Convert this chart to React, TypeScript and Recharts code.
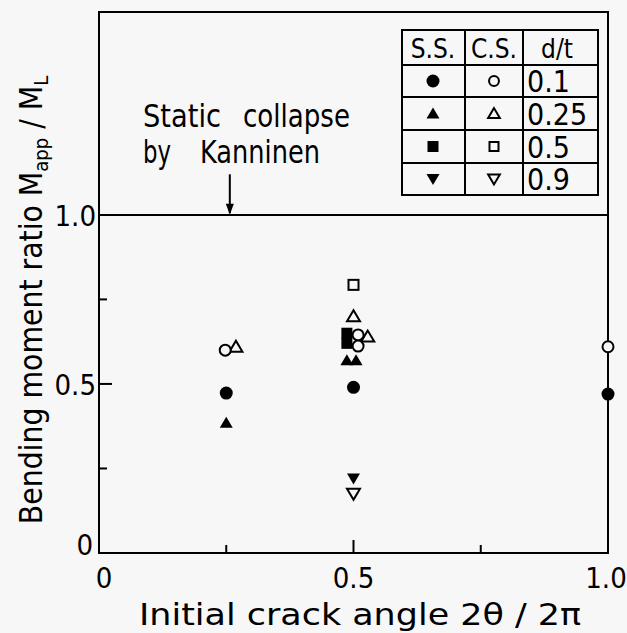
import React from "react";
import { ScatterChart, Scatter, XAxis, YAxis, ReferenceLine, ReferenceArea } from "recharts";

const FONT = "'DejaVu Sans Condensed', 'DejaVu Sans', sans-serif";
const BG = "#f7f7f7";

const xTicks = [0, 0.25, 0.5, 0.75, 1.0];
const yTicks = [0, 0.25, 0.5, 0.75, 1.0];
const xTickLabels: Record<string, string> = { "0": "0", "0.5": "0.5", "1": "1.0" };
const yTickLabels: Record<string, string> = { "0": "0", "0.5": "0.5", "1": "1.0" };

const dtLabels = ["0.1", "0.25", "0.5", "0.9"];

// S.S. (filled) and C.S. (open) results, one array per d/t
const ssD01 = [{ x: 0.25, y: 0.473 }, { x: 0.5, y: 0.49 }, { x: 1.0, y: 0.47 }];
const ssD025 = [{ x: 0.25, y: 0.385 }, { x: 0.487, y: 0.57 }, { x: 0.505, y: 0.57 }];
const ssD05 = [{ x: 0.487, y: 0.65 }, { x: 0.487, y: 0.62 }];
const ssD09 = [{ x: 0.5, y: 0.22 }];
const csD01 = [{ x: 0.248, y: 0.6 }, { x: 0.509, y: 0.645 }, { x: 0.509, y: 0.612 }, { x: 1.0, y: 0.61 }];
const csD025 = [{ x: 0.269, y: 0.61 }, { x: 0.5, y: 0.7 }, { x: 0.528, y: 0.64 }];
const csD05 = [{ x: 0.5, y: 0.793 }];
const csD09 = [{ x: 0.5, y: 0.175 }];

type Kind = "circle" | "triangle" | "square" | "down";

function drawMarker(kind: Kind, filled: boolean, cx: number, cy: number, s = 1) {
  const fill = filled ? "#000" : BG;
  const sw = filled ? 0 : 2;
  if (kind === "circle") {
    const r = (filled ? 6.5 : 5.5) * s;
    return <circle cx={cx} cy={cy} r={r} fill={fill} stroke="#000" strokeWidth={sw} />;
  }
  if (kind === "square") {
    const h = (filled ? 5.5 : 5) * s;
    return <rect x={cx - h} y={cy - h} width={h * 2} height={h * 2} fill={fill} stroke="#000" strokeWidth={sw} />;
  }
  const w = 6.5 * s;
  const t = 6 * s;
  const b = 5 * s;
  const pts =
    kind === "triangle"
      ? `${cx},${cy - t} ${cx - w},${cy + b} ${cx + w},${cy + b}`
      : `${cx},${cy + t} ${cx - w},${cy - b} ${cx + w},${cy - b}`;
  return <polygon points={pts} fill={fill} stroke="#000" strokeWidth={sw} strokeLinejoin="miter" />;
}

const shapeOf = (kind: Kind, filled: boolean) => (p: any) => <g>{drawMarker(kind, filled, p.cx, p.cy)}</g>;

const XTick = (props: any) => {
  const { x, y, payload } = props;
  const v = payload.value;
  const label = xTickLabels[String(v)];
  const len = v === 0.5 ? 13 : 8;
  const dx = v === 0 ? 5 : v === 1 ? -2 : 0;
  return (
    <g>
      {v > 0 && v < 1 && <line x1={x} x2={x} y1={y} y2={y - len} stroke="#000" strokeWidth={2} />}
      {label && (
        <text x={x + dx} y={y + 35} textAnchor="middle" fontFamily={FONT} fontSize={29} fill="#000">
          {label}
        </text>
      )}
    </g>
  );
};

const YTick = (props: any) => {
  const { x, y, payload } = props;
  const v = payload.value;
  const label = yTickLabels[String(v)];
  const len = v === 0.5 || v === 1 ? 13 : 8;
  const isZero = v === 0;
  return (
    <g>
      {v > 0 && v < 1 && <line x1={x} x2={x + len} y1={y} y2={y} stroke="#000" strokeWidth={2} />}
      {label && (
        <text
          x={isZero ? x - 6 : x - 3}
          y={isZero ? y + 2 : y + 11}
          textAnchor="end"
          fontFamily={FONT}
          fontSize={29}
          fill="#000"
        >
          {label}
        </text>
      )}
    </g>
  );
};

const YTitle = () => (
  <text
    transform="translate(42, 300) rotate(-90)"
    textAnchor="middle"
    fontFamily={FONT}
    fontSize={31.5}
    fill="#000"
  >
    <tspan>Bending moment ratio M</tspan>
    <tspan fontSize={20} dy={6}>app</tspan>
    <tspan dy={-6}> / M</tspan>
    <tspan fontSize={20} dy={6}>L</tspan>
  </text>
);

const XTitle = () => (
  <text x={360} y={625} textAnchor="middle" fontFamily={FONT} fontSize={30} fill="#000" textLength={442} lengthAdjust="spacingAndGlyphs">
    Initial crack angle  2θ / 2π
  </text>
);

const legendRows: { kind: Kind; label: string }[] = [
  { kind: "circle", label: dtLabels[0] },
  { kind: "triangle", label: dtLabels[1] },
  { kind: "square", label: dtLabels[2] },
  { kind: "down", label: dtLabels[3] },
];

const LegendTable = () => {
  const W = 196;
  const rowsY = [0, 35, 67, 100, 133, 165];
  const colX = [0, 63, 121, W];
  return (
    <svg width={W + 4} height={170} style={{ position: "absolute", left: 400, top: 28, overflow: "visible" }}>
      <g transform="translate(2,2)">
        <rect x={0} y={0} width={W} height={165} fill={BG} stroke="#000" strokeWidth={2} />
        {rowsY.slice(1, -1).map((ry) => (
          <line key={ry} x1={0} x2={W} y1={ry} y2={ry} stroke="#000" strokeWidth={2} />
        ))}
        {colX.slice(1, -1).map((cx) => (
          <line key={cx} x1={cx} x2={cx} y1={0} y2={165} stroke="#000" strokeWidth={2} />
        ))}
        <text x={31} y={28} textAnchor="middle" fontFamily={FONT} fontSize={26}>S.S.</text>
        <text x={92} y={28} textAnchor="middle" fontFamily={FONT} fontSize={26}>C.S.</text>
        <text x={155} y={28} textAnchor="middle" fontFamily={FONT} fontSize={26}>d/t</text>
        {legendRows.map((r, i) => {
          const cy = (rowsY[i + 1] + rowsY[i + 2]) / 2;
          return (
            <g key={r.label}>
              {drawMarker(r.kind, true, 31, cy)}
              {drawMarker(r.kind, false, 92, cy, 0.9)}
              <text x={125} y={cy + 11} fontFamily={FONT} fontSize={30}>{r.label}</text>
            </g>
          );
        })}
      </g>
    </svg>
  );
};

const AnnotationText = ({ viewBox }: any) => {
  if (!viewBox) return null;
  // viewBox.y is the pixel row of y=1.12; text sits above it, arrow head just above y=1.0
  const x0 = viewBox.x + 44;
  const by = viewBox.y - 11;
  const ax = viewBox.x + 0.257 * viewBox.width;
  const tip = viewBox.y + 0.12 * 338;
  return (
    <g fontFamily={FONT} fontSize={32} fill="#000">
      <text x={x0} y={by - 36} textLength={78} lengthAdjust="spacingAndGlyphs">Static</text>
      <text x={x0 + 100} y={by - 36} textLength={107} lengthAdjust="spacingAndGlyphs">collapse</text>
      <text x={x0} y={by} textLength={28} lengthAdjust="spacingAndGlyphs">by</text>
      <text x={x0 + 57} y={by} textLength={120} lengthAdjust="spacingAndGlyphs">Kanninen</text>
      <polygon points={`${ax},${tip} ${ax - 4},${tip - 11} ${ax + 4},${tip - 11}`} fill="#000" />
    </g>
  );
};

export default function App() {
  return (
    <div style={{ position: "absolute", left: 0, top: 0, width: 627, height: 633, background: BG }}>
      <ScatterChart width={627} height={633} margin={{ top: 12, right: 19, bottom: 0, left: 0 }}>
        <XAxis
          type="number"
          dataKey="x"
          domain={[0, 1]}
          ticks={xTicks}
          height={80}
          axisLine={{ stroke: "#000", strokeWidth: 2 }}
          tickLine={false}
          tickSize={0}
          tickMargin={0}
          tick={<XTick />}
          interval={0}
        />
        <YAxis
          type="number"
          dataKey="y"
          domain={[0, 1.6]}
          ticks={yTicks}
          width={99}
          axisLine={{ stroke: "#000", strokeWidth: 2 }}
          tickLine={false}
          tickSize={0}
          tickMargin={0}
          tick={<YTick />}
          interval={0}
        />
        <ReferenceArea x1={0} x2={1} y1={0} y2={1.6} fill="none" stroke="#000" strokeWidth={2} ifOverflow="visible" />
        <ReferenceLine y={1} stroke="#000" strokeWidth={2} />
        <Scatter data={ssD01} shape={shapeOf("circle", true)} isAnimationActive={false} />
        <Scatter data={ssD025} shape={shapeOf("triangle", true)} isAnimationActive={false} />
        <Scatter data={ssD05} shape={shapeOf("square", true)} isAnimationActive={false} />
        <Scatter data={ssD09} shape={shapeOf("down", true)} isAnimationActive={false} />
        <Scatter data={csD025} shape={shapeOf("triangle", false)} isAnimationActive={false} />
        <Scatter data={csD01} shape={shapeOf("circle", false)} isAnimationActive={false} />
        <Scatter data={csD05} shape={shapeOf("square", false)} isAnimationActive={false} />
        <Scatter data={csD09} shape={shapeOf("down", false)} isAnimationActive={false} />
        <YTitle />
        <XTitle />
        <ReferenceLine
          segment={[{ x: 0.257, y: 1.12 }, { x: 0.257, y: 1.005 }]}
          stroke="#000"
          strokeWidth={2}
        />
        <ReferenceLine y={1.12} stroke="none" label={(p: any) => <AnnotationText viewBox={p.viewBox} />} />
      </ScatterChart>
      <LegendTable />
    </div>
  );
}
